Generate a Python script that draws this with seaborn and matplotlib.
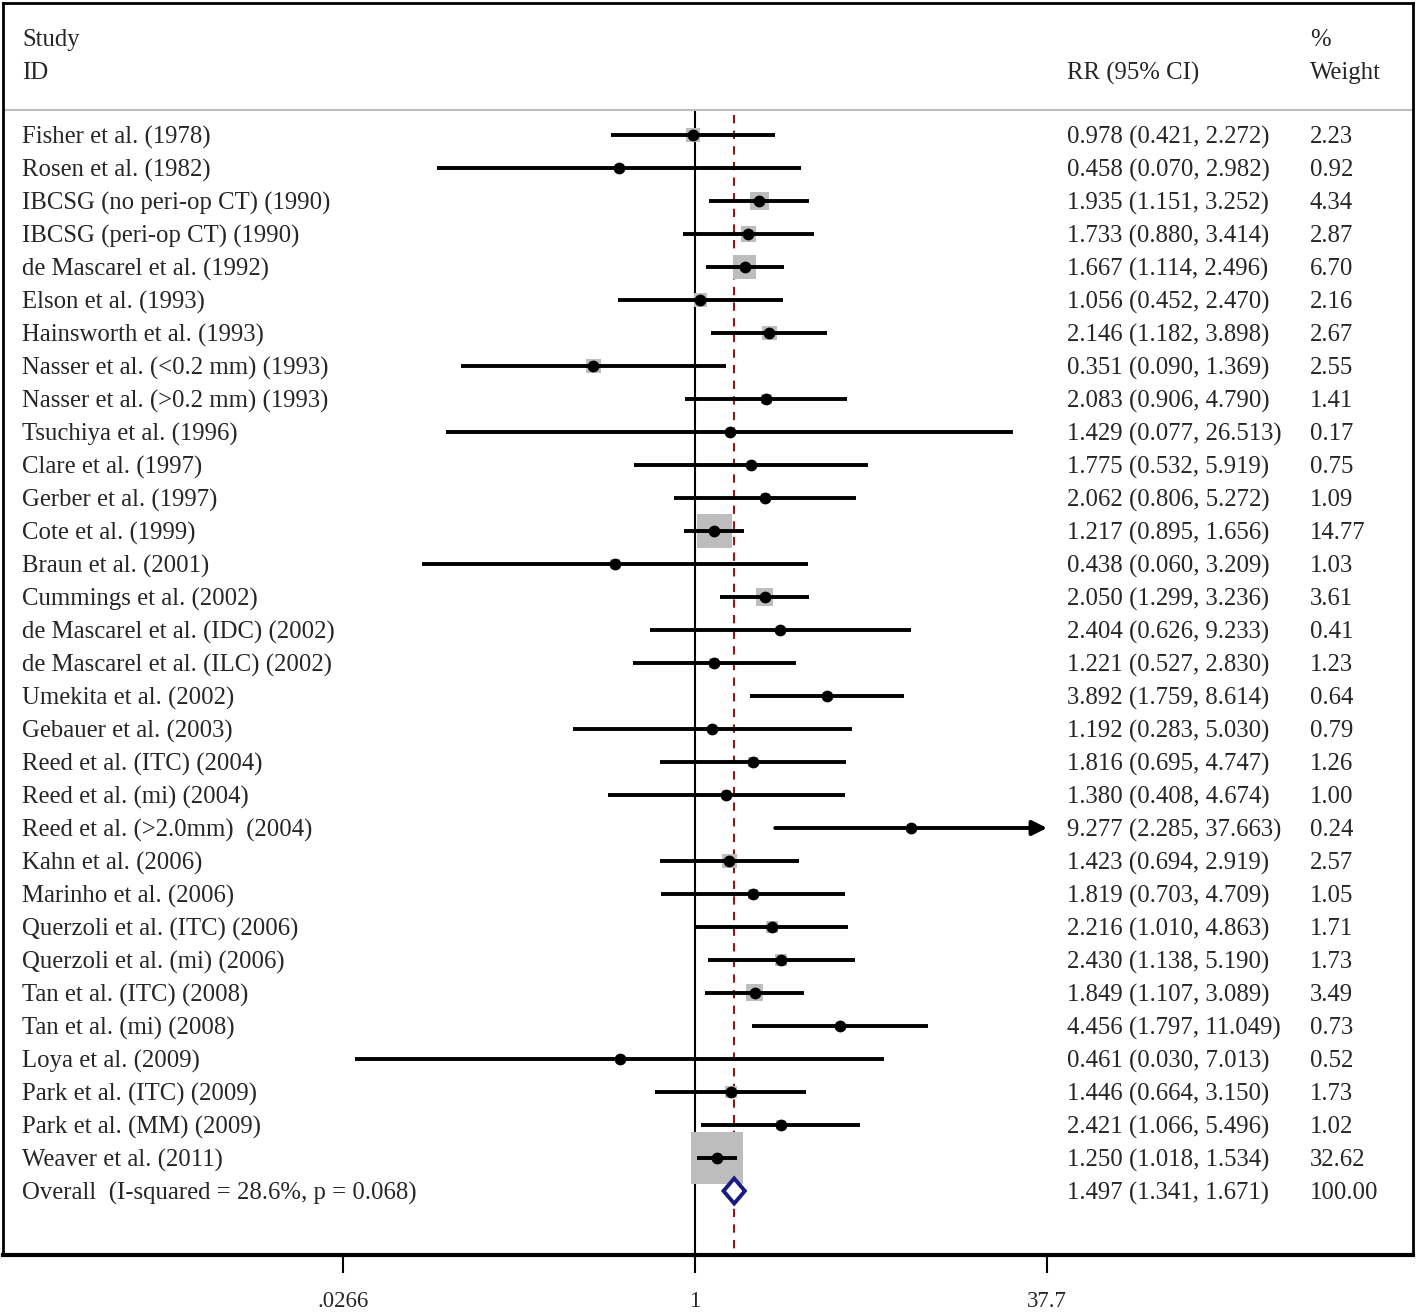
import numpy as np
import matplotlib.pyplot as plt
import seaborn as sns

# ── data ──────────────────────────────────────────────────────────────
studies = [
    "Fisher et al. (1978)", "Rosen et al. (1982)", "IBCSG (no peri-op CT) (1990)",
    "IBCSG (peri-op CT) (1990)", "de Mascarel et al. (1992)", "Elson et al. (1993)",
    "Hainsworth et al. (1993)", "Nasser et al. (<0.2 mm) (1993)",
    "Nasser et al. (>0.2 mm) (1993)", "Tsuchiya et al. (1996)", "Clare et al. (1997)",
    "Gerber et al. (1997)", "Cote et al. (1999)", "Braun et al. (2001)",
    "Cummings et al. (2002)", "de Mascarel et al. (IDC) (2002)",
    "de Mascarel et al. (ILC) (2002)", "Umekita et al. (2002)", "Gebauer et al. (2003)",
    "Reed et al. (ITC) (2004)", "Reed et al. (mi) (2004)", "Reed et al. (>2.0mm)  (2004)",
    "Kahn et al. (2006)", "Marinho et al. (2006)", "Querzoli et al. (ITC) (2006)",
    "Querzoli et al. (mi) (2006)", "Tan et al. (ITC) (2008)", "Tan et al. (mi) (2008)",
    "Loya et al. (2009)", "Park et al. (ITC) (2009)", "Park et al. (MM) (2009)",
    "Weaver et al. (2011)",
]
rr = np.array([0.978, 0.458, 1.935, 1.733, 1.667, 1.056, 2.146, 0.351, 2.083, 1.429,
               1.775, 2.062, 1.217, 0.438, 2.050, 2.404, 1.221, 3.892, 1.192, 1.816,
               1.380, 9.277, 1.423, 1.819, 2.216, 2.430, 1.849, 4.456, 0.461, 1.446,
               2.421, 1.250])
ci_lo = np.array([0.421, 0.070, 1.151, 0.880, 1.114, 0.452, 1.182, 0.090, 0.906, 0.077,
                  0.532, 0.806, 0.895, 0.060, 1.299, 0.626, 0.527, 1.759, 0.283, 0.695,
                  0.408, 2.285, 0.694, 0.703, 1.010, 1.138, 1.107, 1.797, 0.030, 0.664,
                  1.066, 1.018])
ci_hi = np.array([2.272, 2.982, 3.252, 3.414, 2.496, 2.470, 3.898, 1.369, 4.790, 26.513,
                  5.919, 5.272, 1.656, 3.209, 3.236, 9.233, 2.830, 8.614, 5.030, 4.747,
                  4.674, 37.663, 2.919, 4.709, 4.863, 5.190, 3.089, 11.049, 7.013, 3.150,
                  5.496, 1.534])
weight = np.array([2.23, 0.92, 4.34, 2.87, 6.70, 2.16, 2.67, 2.55, 1.41, 0.17, 0.75,
                   1.09, 14.77, 1.03, 3.61, 0.41, 1.23, 0.64, 0.79, 1.26, 1.00, 0.24,
                   2.57, 1.05, 1.71, 1.73, 3.49, 0.73, 0.52, 1.73, 1.02, 32.62])

overall_label = "Overall  (I-squared = 28.6%, p = 0.068)"
overall_rr, overall_lo, overall_hi, overall_w = 1.497, 1.341, 1.671, 100.00

xticks = [0.0266, 1, 37.7]
xticklabels = [".0266", "1", "37.7"]
axis_max = 37.7
# ──────────────────────────────────────────────────────────────────────

sns.set_style("white")
plt.rcParams["font.family"] = ["Liberation Serif", "DejaVu Serif"]

rows = np.arange(len(studies))
overall_row = len(studies)

fig = plt.figure(figsize=(14.18, 13.12), dpi=100)
ax = fig.add_axes([3 / 1418, 57 / 1312, 1410 / 1418, 1252 / 1312])
ax.set_xscale("log")
ax.set_xlim(10 ** -3.098, 10 ** 3.214)
ax.set_ylim(33.94, -4)

# reference lines
ax.vlines(1, -0.72, 33.94, color="black", lw=1.5, zorder=1)
ax.vlines(overall_rr, -0.6, 33.94, color="#8b1a1a", lw=1.5,
          linestyles=(0, (4, 3.5)), zorder=1)
ax.axhline(-0.76, color="#bdbdbd", lw=1.5)

# weight squares
sns.scatterplot(x=rr, y=rows, s=42.9 * weight, marker="s", color="#bdbdbd",
                linewidth=0, legend=False, ax=ax, zorder=2)

# confidence intervals
clipped = ci_hi > axis_max * 0.99
ax.hlines(rows[~clipped], ci_lo[~clipped], ci_hi[~clipped], color="black", lw=2.8, zorder=3)
for r, lo, hi in zip(rows[clipped], ci_lo[clipped], ci_hi[clipped]):
    ax.annotate("", xy=(hi, r), xytext=(lo, r),
                arrowprops=dict(arrowstyle="-|>", lw=2.8, color="black",
                                mutation_scale=22, shrinkA=0, shrinkB=0), zorder=3)

# point estimates
sns.scatterplot(x=rr, y=rows, s=72, marker="o", color="black",
                linewidth=0, legend=False, ax=ax, zorder=4)

# overall diamond
ax.fill([overall_lo, overall_rr, overall_hi, overall_rr],
        [overall_row, overall_row - 0.38, overall_row, overall_row + 0.38],
        facecolor="white", edgecolor="#1a1a80", lw=2.8, zorder=5)

# text columns
tr = ax.get_yaxis_transform()
fs = 17.8
dy = 0.06
x_name, x_rr, x_w = (22 - 3) / 1410, (1067 - 3) / 1410, (1310 - 3) / 1410
ax.text(x_name, -2.94 + dy, "Study", transform=tr, fontsize=fs, va="center")
ax.text(x_name, -1.94 + dy, "ID", transform=tr, fontsize=fs, va="center")
ax.text(x_rr, -1.94 + dy, "RR (95% CI)", transform=tr, fontsize=fs, va="center")
ax.text(x_w, -2.94 + dy, "%", transform=tr, fontsize=fs, va="center")
ax.text(x_w, -1.94 + dy, "Weight", transform=tr, fontsize=fs, va="center")

for r, name, est, lo, hi, w in zip(rows, studies, rr, ci_lo, ci_hi, weight):
    ax.text(x_name, r + dy, name, transform=tr, fontsize=fs, va="center")
    ax.text(x_rr, r + dy, f"{est:.3f} ({lo:.3f}, {hi:.3f})", transform=tr,
            fontsize=fs, va="center")
    ax.text(x_w, r + dy, f"{w:.2f}", transform=tr, fontsize=fs, va="center")

ax.text(x_name, overall_row + dy, overall_label, transform=tr, fontsize=fs, va="center")
ax.text(x_rr, overall_row + dy,
        f"{overall_rr:.3f} ({overall_lo:.3f}, {overall_hi:.3f})",
        transform=tr, fontsize=fs, va="center")
ax.text(x_w, overall_row + dy, f"{overall_w:.2f}", transform=tr, fontsize=fs, va="center")

# axes styling
ax.set_xticks(xticks)
ax.set_xticklabels(xticklabels, fontsize=16.5)
ax.xaxis.set_minor_locator(plt.NullLocator())
ax.tick_params(axis="x", direction="out", length=13, width=1.5, pad=13,
               bottom=True, color="black")
ax.set_yticks([])
for side in ["top", "left", "right"]:
    ax.spines[side].set_linewidth(2)
    ax.spines[side].set_color("black")
ax.spines["bottom"].set_linewidth(3)
ax.spines["bottom"].set_color("black")

fig.savefig("out.png", dpi=100)
